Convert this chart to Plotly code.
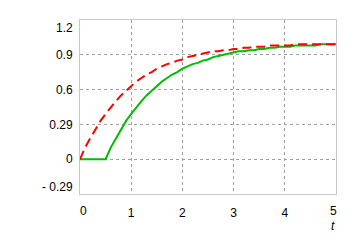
import plotly.graph_objects as go

t = [round(i * 0.1, 1) for i in range(51)]
red_y = [0, 0.10, 0.18, 0.26, 0.33, 0.39, 0.45, 0.50, 0.55, 0.59, 0.63,
         0.67, 0.70, 0.73, 0.75, 0.78, 0.80, 0.82, 0.83, 0.85, 0.86,
         0.88, 0.89, 0.90, 0.91, 0.92, 0.93, 0.93, 0.94, 0.94, 0.95,
         0.95, 0.96, 0.96, 0.97, 0.97, 0.97, 0.98, 0.98, 0.98, 0.98,
         0.98, 0.99, 0.99, 0.99, 0.99, 0.99, 0.99, 0.99, 0.99, 0.99]
green_y = [0, 0, 0, 0, 0, 0,
           0.10, 0.18, 0.26, 0.33, 0.39, 0.45, 0.50, 0.55, 0.59, 0.63,
           0.67, 0.70, 0.73, 0.75, 0.78, 0.80, 0.82, 0.83, 0.85, 0.86,
           0.88, 0.89, 0.90, 0.91, 0.92, 0.93, 0.93, 0.94, 0.94, 0.95,
           0.95, 0.96, 0.96, 0.97, 0.97, 0.97, 0.98, 0.98, 0.98, 0.98,
           0.98, 0.99, 0.99, 0.99, 0.99]

x_ticks = [1, 2, 3, 4]
x_ticktext = ["1", "2", "3", "4"]
y_ticks = [0, 0.3, 0.6, 0.9]
y_ticktext = ["0", "0.29", "0.6", "0.9"]

font = dict(family="Liberation Sans, Arial, sans-serif", size=12, color="#000000")

fig = go.Figure()
fig.add_trace(go.Scatter(x=t, y=green_y, mode="lines",
                         line=dict(color="#00bb00", width=2), showlegend=False))
fig.add_trace(go.Scatter(x=t, y=red_y, mode="lines",
                         line=dict(color="#ff0000", width=2, dash="9px,5px"), showlegend=False))

fig.update_layout(
    width=356, height=244,
    margin=dict(l=80, r=20, t=20, b=50),
    paper_bgcolor="white", plot_bgcolor="white",
    font=font,
    xaxis=dict(range=[0, 5], tickvals=x_ticks, ticktext=x_ticktext,
               showgrid=True, gridcolor="#a0a0a0", griddash="3px,3px", gridwidth=1,
               zeroline=False, showline=True, mirror=True, linecolor="#c8c8c8",
               linewidth=1, ticks="", ticklabelstandoff=8, tickfont=font),
    yaxis=dict(range=[-0.3, 1.2], tickvals=y_ticks, ticktext=y_ticktext,
               showgrid=True, gridcolor="#a0a0a0", griddash="3px,3px", gridwidth=1,
               zeroline=False, showline=True, mirror=True, linecolor="#c8c8c8",
               linewidth=1, ticks="", ticklabelstandoff=4, tickfont=font),
)

fig.add_annotation(x=0, y=-0.3, text="0", showarrow=False, xanchor="center", yanchor="top",
                   xshift=3, yshift=-8, font=font)
fig.add_annotation(x=5, y=-0.3, text="5", showarrow=False, xanchor="center", yanchor="top",
                   xshift=-3, yshift=-8, font=font)
fig.add_annotation(x=0, y=1.2, text="1.2", showarrow=False, xanchor="right", yanchor="middle",
                   xshift=-5, yshift=-8, font=font)
fig.add_annotation(x=0, y=-0.3, text="- 0.29", showarrow=False, xanchor="right", yanchor="middle",
                   xshift=-5, yshift=7, font=font)
fig.add_annotation(x=5, y=-0.3, text="<i>t</i>", showarrow=False, xanchor="center", yanchor="top",
                   xshift=-3, yshift=-23, font=font)

fig.write_html("out.html")
